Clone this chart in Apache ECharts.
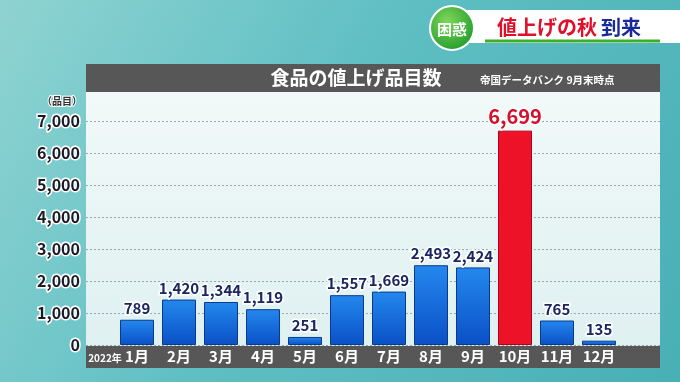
<!DOCTYPE html>
<html><head><meta charset="utf-8">
<script src="https://cdn.jsdelivr.net/npm/echarts@6/dist/echarts.min.js"></script>
<style>html,body{margin:0;padding:0;}#c{width:680px;height:382px;}</style>
</head><body><div id="c"></div>
<script>
const categories = ['1月','2月','3月','4月','5月','6月','7月','8月','9月','10月','11月','12月'];
const values = [789, 1420, 1344, 1119, 251, 1557, 1669, 2493, 2424, 6699, 765, 135];
const highlightIndex = 9;
const yTicks = [0, 1000, 2000, 3000, 4000, 5000, 6000, 7000];

const fmt = v => String(v).replace(/\B(?=(\d{3})+(?!\d))/g, ',');
const FONT = '"Noto Sans CJK JP", "Noto Sans", sans-serif';

const chart = echarts.init(document.getElementById('c'), null, {renderer: 'canvas'});
const gridTop = 121, gridBottom = 37;

chart.setOption({
  animation: false,
  backgroundColor: {type:'linear', x:0, y:0, x2:1, y2:1, colorStops:[
    {offset:0, color:'#8fd3d2'}, {offset:0.45, color:'#5fbfc3'}, {offset:1, color:'#49b0b6'}]},
  graphic: [
    {type:'rect', z:0, shape:{x:86, y:92, width:574, height:255},
     style:{fill:{type:'linear', x:0,y:0,x2:0,y2:1, colorStops:[{offset:0,color:'#f2f9f9'},{offset:1,color:'#dff0f0'}]}}},
    {type:'rect', z:0, shape:{x:86, y:64, width:574, height:28}, style:{fill:'#575757'}},
    {type:'text', z:5, style:{x:356, y:78, text:'食品の値上げ品目数', fill:'#fff', font:'bold 19px ' + FONT, textAlign:'center', textVerticalAlign:'middle'}},
    {type:'text', z:5, style:{x:480, y:80, text:'帝国データバンク 9月末時点', fill:'#fff', font:'bold 10.5px ' + FONT, textAlign:'left', textVerticalAlign:'middle'}},
    {type:'rect', z:0, shape:{x:86, y:346, width:574, height:22}, style:{fill:'#575757'}},
    {type:'text', z:5, style:{x:105, y:358, text:'2022年', fill:'#fff', font:'bold 10px ' + FONT, textAlign:'center', textVerticalAlign:'middle'}},
    {type:'text', z:5, style:{x:62, y:101, text:'（品目）', fill:'#333', font:'bold 10px ' + FONT, textAlign:'center', textVerticalAlign:'middle', stroke:'#fff', lineWidth:2}},
    {type:'rect', z:1, shape:{x:445, y:10, width:240, height:33, r:[16,0,0,16]}, style:{fill:'#ffffff'}},
    {type:'line', z:2, shape:{x1:485, y1:41, x2:660, y2:41}, style:{stroke:'#3cae2c', lineWidth:3}},
    {type:'circle', z:3, shape:{cx:452, cy:28, r:22}, style:{fill:{type:'radial', x:0.4, y:0.35, r:0.7, colorStops:[{offset:0,color:'#7fd65a'},{offset:1,color:'#1f9a2a'}]}, stroke:'#ffffff', lineWidth:2}},
    {type:'text', z:4, style:{x:452, y:29, text:'困惑', fill:'#fff', font:'bold 15px ' + FONT, textAlign:'center', textVerticalAlign:'middle'}},
    {type:'text', z:4, style:{x:497, y:27, text:'値上げの秋', fill:'#e0102a', font:'bold 20px ' + FONT, textAlign:'left', textVerticalAlign:'middle'}},
    {type:'text', z:4, style:{x:601, y:27, text:'到来', fill:'#1a2a9a', font:'bold 20px ' + FONT, textAlign:'left', textVerticalAlign:'middle'}}
  ],
  grid: [
    {left:86, right:20, top:gridTop, bottom:gridBottom},
    {left:116, right:60, top:gridTop, bottom:gridBottom}
  ],
  xAxis: [
    {type:'category', gridIndex:0, data:categories, show:false},
    {type:'category', gridIndex:1, data:categories,
     axisLine:{show:false}, axisTick:{show:false},
     axisLabel:{interval:0, color:'#fff', fontSize:15, fontWeight:'bold', fontFamily:FONT, margin:4}}
  ],
  yAxis: [
    {type:'value', gridIndex:0, min:0, max:7000, interval:1000,
     axisLine:{show:false}, axisTick:{show:false},
     splitLine:{show:true, lineStyle:{color:'#9aa8ac', type:[2,2], width:1}},
     axisLabel:{formatter: v => yTicks.includes(v) ? fmt(v) : '', color:'#1a1a26', fontSize:16, fontWeight:'bold', fontFamily:FONT, margin:6,
       textBorderColor:'#fff', textBorderWidth:3}},
    {type:'value', gridIndex:1, min:0, max:7000, interval:1000, show:false, splitLine:{show:false}}
  ],
  series: [{
    type:'bar', xAxisIndex:1, yAxisIndex:1, barWidth:34, z:3,
    data: values.map((v, i) => i === highlightIndex ? {
      value:v,
      itemStyle:{color:'#ee1228', borderColor:'#b0001a', borderWidth:1},
      label:{color:'#d4102c', fontSize:20, distance:4}
    } : v),
    itemStyle:{color:{type:'linear', x:0, y:0, x2:0, y2:1, colorStops:[{offset:0,color:'#2488ee'},{offset:1,color:'#0a50c6'}]},
      borderColor:'#0a3a8a', borderWidth:1},
    label:{show:true, position:'top', distance:4, formatter: p => fmt(p.value),
      color:'#1b2660', fontSize:15, fontWeight:'bold', fontFamily:FONT, textBorderColor:'#fff', textBorderWidth:3}
  }]
});
</script>
</body></html>
